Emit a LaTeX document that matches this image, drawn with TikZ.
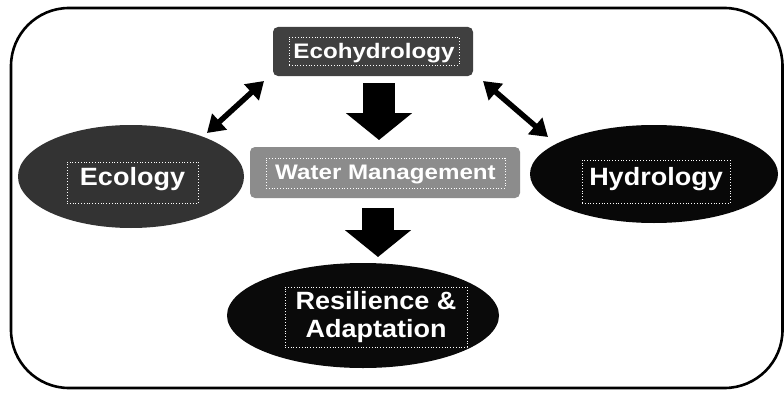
\documentclass[tikz,border=0pt]{standalone}
\usepackage{fontspec}
\setmainfont{Liberation Sans}
\newfontfamily\smallf{Liberation Sans}[FakeStretch=1.15]
\newfontfamily\bigf{Liberation Sans}[FakeStretch=1.08]
\usetikzlibrary{arrows.meta,shapes.geometric}
\definecolor{cEcoh}{HTML}{404040}
\definecolor{cWM}{HTML}{8C8C8C}
\definecolor{cEcol}{HTML}{333333}
\definecolor{cHyd}{HTML}{080808}
\definecolor{cRes}{HTML}{0A0A0A}
\begin{document}
\begin{tikzpicture}[x=1pt,y=-1pt,
  frame/.style={draw=black, line width=2.6pt, rounded corners=58pt},
  rbox/.style={rounded corners=5pt, inner sep=0pt},
  oval/.style={ellipse, inner sep=0pt},
  lbl/.style={draw=white, dotted, line width=0.8pt, text=white, inner sep=0pt, align=center},
  smalltxt/.style={font=\smallf\bfseries\fontsize{21}{24}\selectfont},
  bigtxt/.style={font=\bigf\bfseries\fontsize{25}{28}\selectfont},
  dbl/.style={{Triangle[length=17pt,width=21pt]}-{Triangle[length=17pt,width=21pt]}, line width=5.5pt},
  blk/.style={-{Triangle[length=27pt,width=65pt]}, line width=32pt}]
\path[use as bounding box, fill=white] (0,0) rectangle (784,396);
\draw[frame] (11,8) rectangle (782.5,388);
% shapes
\node[rbox, fill=cEcoh, minimum width=200pt, minimum height=49pt] (ecoh) at (373,51.5) {};
\node[rbox, fill=cWM, minimum width=270pt, minimum height=51pt] (wm) at (385,172.5) {};
\node[oval, fill=cEcol, minimum width=226pt, minimum height=103pt] (ecol) at (131,176.5) {};
\node[oval, fill=cHyd, minimum width=248pt, minimum height=98pt] (hyd) at (654,174) {};
\node[oval, fill=cRes, minimum width=272pt, minimum height=105pt] (res) at (363,315.5) {};
% labels
\node[lbl, smalltxt, text height=20pt, text depth=4pt, minimum width=170pt, minimum height=28pt] (ecohT) at (374,51) {Ecohydrology};
\node[lbl, smalltxt, text height=19pt, text depth=7pt, minimum width=239pt, minimum height=30pt] (wmT) at (385.5,173) {Water Management};
\node[lbl, bigtxt, text height=20pt, text depth=15pt, minimum width=131pt, minimum height=41pt] (ecolT) at (132.5,182.5) {Ecology};
\node[lbl, bigtxt, text height=21pt, text depth=14pt, minimum width=148pt, minimum height=43pt] (hydT) at (656,181.5) {Hydrology};
\node[lbl, bigtxt, minimum width=182pt, minimum height=60pt] (resT) at (376,317) {Resilience \&\\Adaptation};
% connectors
\coordinate (a1s) at (207,133); \coordinate (a1e) at (264,81);
\coordinate (a2s) at (483,81);  \coordinate (a2e) at (548,137);
\coordinate (d1s) at (379,83);  \coordinate (d1e) at (379,140);
\coordinate (d2s) at (378,208); \coordinate (d2e) at (378,257);
\draw[dbl] (a1s) -- (a1e);
\draw[dbl] (a2s) -- (a2e);
\draw[blk] (d1s) -- (d1e);
\draw[blk] (d2s) -- (d2e);
\end{tikzpicture}
\end{document}
